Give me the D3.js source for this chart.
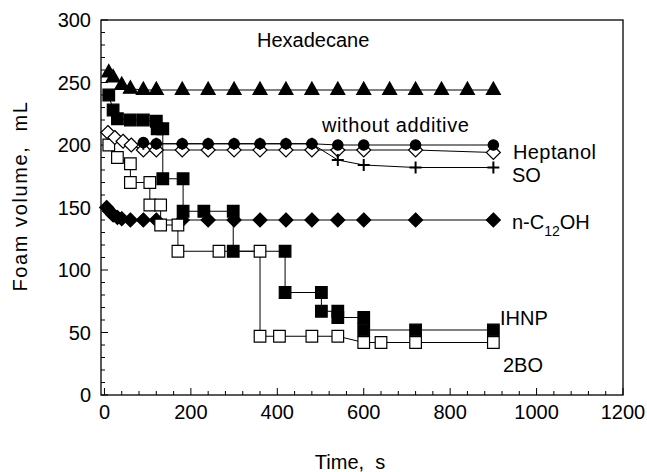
<!DOCTYPE html>
<html>
<head>
<meta charset="utf-8">
<script src="https://cdn.jsdelivr.net/npm/d3@7"></script>
<style>
  body { margin: 0; background: #fff; }
  text { font-family: "Liberation Sans", Arial, sans-serif; white-space: pre; }
</style>
</head>
<body>
<div id="area"></div>
<script>
// time in s, foam volume in mL
const hexTime = [10, 20, 40, 60, 90, 120, 180, 240, 300, 360, 420, 480, 540, 600, 660, 720, 780, 840, 900]
const hexVol = [258, 254, 248, 245, 244, 244, 244, 244, 244, 244, 244, 244, 244, 244, 244, 244, 244, 244, 244]

const noAddTime = [90, 120, 180, 240, 300, 360, 420, 480, 540, 600, 720, 900]
const noAddVol = [202, 201, 201, 201, 201, 201, 201, 201, 200, 200, 200, 200]

const heptTime = [8, 24, 43, 62, 90, 120, 180, 240, 300, 360, 420, 480, 540, 600, 720, 900]
const heptVol = [210, 206, 203, 200, 196, 196, 196, 196, 196, 196, 196, 196, 196, 196, 196, 194]

const soTime = [90, 120, 180, 240, 300, 360, 420, 480, 540, 600, 720, 900]
const soVol = [201, 201, 201, 201, 201, 201, 201, 201, 188, 184, 182, 182]

const c12Time = [5, 12, 20, 30, 40, 60, 90, 120, 180, 240, 300, 360, 420, 480, 540, 600, 720, 900]
const c12Vol = [150, 147, 144, 142, 141, 140, 140, 140, 140, 140, 140, 140, 140, 140, 140, 140, 140, 140]

const ihnpTime = [10, 20, 30, 60, 90, 120, 122, 135, 135, 182, 182, 230, 298, 298, 418, 418, 502, 502, 540, 540, 600, 600, 720, 900]
const ihnpVol = [240, 228, 221, 220, 220, 219, 213, 213, 173, 173, 147, 147, 147, 115, 115, 82, 82, 67, 67, 62, 62, 52, 52, 52]

const boTime = [10, 30, 60, 60, 105, 105, 130, 130, 170, 170, 265, 360, 360, 405, 480, 540, 600, 640, 720, 900]
const boVol = [200, 190, 185, 170, 170, 152, 152, 136, 136, 115, 115, 115, 47, 47, 47, 47, 42, 42, 42, 42]

const yTicks = [0, 50, 100, 150, 200, 250, 300]
const xTicks = [0, 200, 400, 600, 800, 1000, 1200]

const width = 647
const height = 472

const x = d3.scaleLinear().domain([-8, 1200]).range([101, 623])
const y = d3.scaleLinear().domain([0, 300]).range([395, 20])

function zip(t, v) {
    return t.map((d, i) => ({t: d, v: v[i]}))
}

const line = d3.line().x(d => x(d.t)).y(d => y(d.v))

// marker paths centred on 0,0
const shapes = {
    triangle: "M0,-8L7,4.5L-7,4.5Z",
    square: "M-5.8,-5.8H5.8V5.8H-5.8Z",
    diamond: "M0,-7L7,0L0,7L-7,0Z",
    circle: d3.symbol(d3.symbolCircle, 85)(),
    plus: "M-6,0H6M0,-6V6"
}

const series = [
    {data: zip(c12Time, c12Vol), shape: "diamond", fill: "#000"},
    {data: zip(boTime, boVol), shape: "square", fill: "#fff"},
    {data: zip(ihnpTime, ihnpVol), shape: "square", fill: "#000"},
    {data: zip(heptTime, heptVol), shape: "diamond", fill: "#fff"},
    {data: zip(noAddTime, noAddVol), shape: "circle", fill: "#000"},
    {data: zip(soTime, soVol), shape: "plus", fill: "none"},
    {data: zip(hexTime, hexVol), shape: "triangle", fill: "#000"}
]

const svg = d3.create("svg")
    .attr("width", width)
    .attr("height", height)

// frame
svg.append("rect")
    .attr("x", x.range()[0])
    .attr("y", y.range()[1])
    .attr("width", x.range()[1] - x.range()[0])
    .attr("height", y.range()[0] - y.range()[1])
    .attr("fill", "none")
    .attr("stroke", "#000")
    .attr("stroke-width", 1.3)

// y ticks, pointing inward
const yAxis = svg.append("g").attr("stroke", "#000").attr("stroke-width", 1)
yAxis.selectAll("line")
    .data(d3.range(0, 301, 10))
    .join("line")
    .attr("x1", x.range()[0])
    .attr("x2", d => x.range()[0] + (d % 50 === 0 ? 7 : 4))
    .attr("y1", d => y(d))
    .attr("y2", d => y(d))

svg.append("g")
    .selectAll("text")
    .data(yTicks)
    .join("text")
    .attr("x", 91)
    .attr("y", d => y(d))
    .attr("dy", "0.36em")
    .attr("text-anchor", "end")
    .attr("font-size", 20)
    .text(d => d)

// x ticks, pointing inward
const xAxis = svg.append("g").attr("stroke", "#000").attr("stroke-width", 1)
xAxis.selectAll("line")
    .data(d3.range(0, 1201, 40))
    .join("line")
    .attr("x1", d => x(d))
    .attr("x2", d => x(d))
    .attr("y1", y.range()[0])
    .attr("y2", d => y.range()[0] - (d % 200 === 0 ? 7 : 4))

svg.append("g")
    .selectAll("text")
    .data(xTicks)
    .join("text")
    .attr("x", d => x(d))
    .attr("y", 419)
    .attr("text-anchor", "middle")
    .attr("font-size", 20)
    .text(d => d)

svg.append("text")
    .attr("transform", "translate(27,196) rotate(-90)")
    .attr("text-anchor", "middle")
    .attr("font-size", 20)
    .attr("letter-spacing", 1.6)
    .text("Foam volume,  mL")

svg.append("text")
    .attr("x", 350)
    .attr("y", 469)
    .attr("text-anchor", "middle")
    .attr("font-size", 20)
    .text("Time,  s")

// lines first, markers on top
const plot = svg.append("g")
series.forEach(s => {
    plot.append("path")
        .attr("d", line(s.data))
        .attr("fill", "none")
        .attr("stroke", "#000")
        .attr("stroke-width", 1)
})
series.forEach(s => {
    plot.append("g")
        .selectAll("path")
        .data(s.data)
        .join("path")
        .attr("transform", d => `translate(${x(d.t)},${y(d.v)})`)
        .attr("d", shapes[s.shape])
        .attr("fill", s.fill)
        .attr("stroke", "#000")
        .attr("stroke-width", s.shape === "plus" ? 2 : 1.2)
})

// series labels
const labels = [
    {text: "Hexadecane", x: 257, y: 47, ls: 0},
    {text: "without additive", x: 322, y: 132, ls: 0.6},
    {text: "Heptanol", x: 513, y: 159, ls: 0.4},
    {text: "SO", x: 512, y: 182, ls: 0},
    {text: "IHNP", x: 500, y: 325, ls: 0},
    {text: "2BO", x: 503, y: 372, ls: 0}
]
svg.append("g")
    .selectAll("text")
    .data(labels)
    .join("text")
    .attr("x", d => d.x)
    .attr("y", d => d.y)
    .attr("font-size", 20)
    .attr("letter-spacing", d => d.ls)
    .text(d => d.text)

const c12 = svg.append("text")
    .attr("x", 512)
    .attr("y", 229)
    .attr("font-size", 20)
c12.append("tspan").text("n-C")
c12.append("tspan").attr("font-size", 14).attr("dy", 7).text("12")
c12.append("tspan").attr("dy", -7).text("OH")

document.querySelector("#area").appendChild(svg.node())
</script>
</body>
</html>
